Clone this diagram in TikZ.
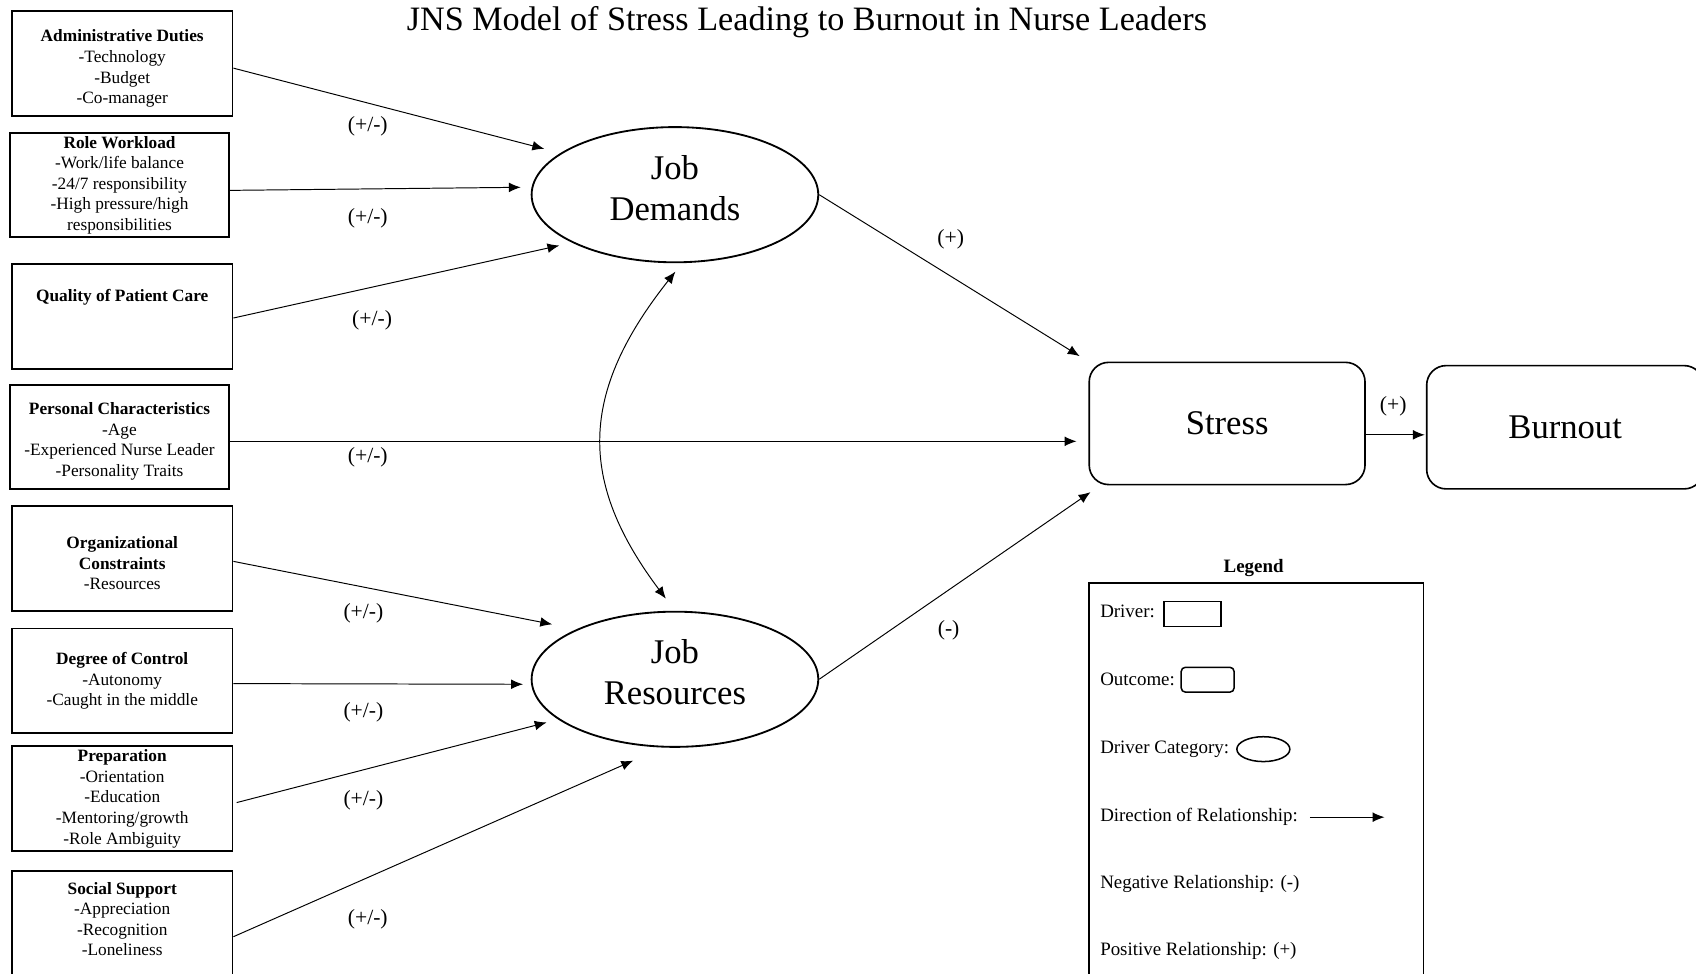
\documentclass[tikz,border=0pt]{standalone}
\usepackage{fontspec}
\setmainfont{Liberation Serif}
\usetikzlibrary{arrows.meta,shapes.geometric}
\begin{document}
\begin{tikzpicture}[x=1pt, y=-1pt,
  every node/.style={inner sep=0pt},
  driver/.style={draw, line width=1.6pt, minimum width=204pt, minimum height=97pt,
    align=center, font=\fontsize{16}{19}\selectfont},
  category/.style={draw, ellipse, line width=1.7pt, minimum width=265pt,
    minimum height=125pt, align=center, font=\fontsize{32}{38}\selectfont},
  outcome/.style={draw, rounded corners=18pt, line width=1.5pt, minimum height=113pt,
    font=\fontsize{32}{38}\selectfont},
  tip/.tip={Latex[length=11pt,width=9pt]},
  rel/.style={-tip, line width=0.9pt},
  sign/.style={font=\fontsize{20}{24}\selectfont, text height=14pt, text depth=4.5pt},
  legtext/.style={anchor=west, font=\fontsize{17.5}{21}\selectfont,
    text height=12pt, text depth=4pt},
  legshape/.style={draw, line width=1.4pt, minimum height=23pt},
]
\useasboundingbox (0,0) rectangle (1568,900);

% title
\node[anchor=base, font=\fontsize{31.6}{37}\selectfont] (title) at (746,28)
  {JNS Model of Stress Leading to Burnout in Nurse Leaders};

% drivers (empty rows with extra skip nudge the text block up or down)
\node[driver] (admin) at (113,58.5)
  {\mbox{}\\[2pt]\textbf{Administrative Duties}\\-Technology\\-Budget\\-Co-manager};
\node[driver, minimum width=203pt, minimum height=96pt] (role) at (110.5,171)
  {\textbf{Role Workload}\\-Work/life balance\\-24/7 responsibility\\-High pressure/high\\responsibilities};
\node[driver] (quality) at (113,292.5)
  {\textbf{Quality of Patient Care}\\[19pt]\mbox{}};
\node[driver, minimum width=203pt, minimum height=96pt] (personal) at (110.5,404)
  {\mbox{}\\[0pt]\textbf{Personal Characteristics}\\-Age\\-Experienced Nurse Leader\\-Personality Traits};
\node[driver] (org) at (113,516.5)
  {\mbox{}\\[1pt]\textbf{Organizational}\\\textbf{Constraints}\\-Resources};
\node[driver] (degree) at (113,629.5)
  {\textbf{Degree of Control}\\-Autonomy\\-Caught in the middle};
\node[driver] (prep) at (113,738.5)
  {\textbf{Preparation}\\-Orientation\\-Education\\-Mentoring/growth\\-Role Ambiguity};
\node[driver] (social) at (113,853.5)
  {\textbf{Social Support}\\-Appreciation\\-Recognition\\-Loneliness\\[-11pt]\mbox{}};

% driver categories
\node[category] (jd) at (624,180) {Job\\Demands\\[-26pt]\mbox{}};
\node[category] (jr) at (624,628) {Job\\Resources\\[-24pt]\mbox{}};

% outcomes
\node[outcome, minimum width=255pt] (stress) at (1134.5,391.5) {Stress};
\node[outcome, minimum width=256pt, minimum height=114pt] (burnout) at (1447,395) {Burnout};

% drivers to categories
\draw[rel, shorten >=15.5pt] ([yshift=-4.5pt]admin.east) -- (jd.160);
\draw[rel, shorten >=10pt] ([yshift=-5pt]role.east) -- (jd.177);
\draw[rel, shorten >=12pt] ([yshift=-1.5pt]quality.east) -- (jd.205);
\draw[rel, shorten >=23pt] ([yshift=-2.5pt]org.east) -- (jr.153);
\draw[rel, shorten >=7.5pt] ([yshift=-2.5pt]degree.east) -- (jr.182);
\draw[rel, shorten >=11pt] ([xshift=3pt,yshift=-3.5pt]prep.east) -- (jr.199);
\draw[rel, shorten >=30pt] ([yshift=-12.5pt]social.east) -- (jr.260);

% direct driver of stress
\coordinate (pA) at ([yshift=-4pt]personal.east);
\draw[rel, shorten >=11pt] (pA) -- (pA -| stress.west);

% categories to stress, stress to burnout
\draw[rel, shorten >=9.5pt] (jd.east) -- (stress.north west);
\draw[rel, shorten >=11pt] (jr.east) -- ([xshift=11pt]stress.south west);
\coordinate (sA) at ([yshift=-10.5pt]stress.east);
\draw[rel, shorten >=1pt] (sA) -- (sA -| burnout.west);

% demands <-> resources
\draw[tip-tip, line width=0.9pt, shorten <=10pt, shorten >=14pt]
  (jd.276) .. controls +(-95,120) and +(-90,-120) .. (jr.north);

% relationship signs
\node[sign] (sg1) at (340,117) {(+/-)};
\node[sign] (sg2) at (340,202) {(+/-)};
\node[sign] (sg3) at (344,296) {(+/-)};
\node[sign] (sg4) at (340,423) {(+/-)};
\node[sign] (sg5) at (336,567) {(+/-)};
\node[sign] (sg6) at (336,659) {(+/-)};
\node[sign] (sg7) at (336,740) {(+/-)};
\node[sign] (sg8) at (340,850) {(+/-)};
\node[sign] (sg9) at (879,221) {(+)};
\node[sign] (sg10) at (877,583) {(-)};
\node[sign] (sg11) at (1288,376) {(+)};

% legend
\node[font=\bfseries\fontsize{17.5}{21}\selectfont] (legtitle) at (1159,525) {Legend};
\node[draw, line width=1.5pt, minimum width=309pt, minimum height=366pt] (legbox) at (1161.5,722) {};
\node[legtext] (lg1) at (1017,566.5) {Driver:};
\node[legshape, minimum width=53pt] (lgdriver) at (1102.5,567.5) {};
\node[legtext] (lg2) at (1017,629.5) {Outcome:};
\node[legshape, rounded corners=4pt, minimum width=49pt] (lgoutcome) at (1116.5,628.4) {};
\node[legtext] (lg3) at (1017,692.5) {Driver Category:};
\node[legshape, ellipse, minimum width=49pt] (lgcat) at (1168,692.6) {};
\node[legtext] (lg4) at (1017,755.5) {Direction of Relationship:};
\coordinate (lgA) at (1211,755.5);
\coordinate (lgB) at (1280,755.5);
\draw[rel] (lgA) -- (lgB);
\node[legtext] (lg5) at (1017,817.5) {Negative Relationship: (-)};
\node[legtext] (lg6) at (1017,879) {Positive Relationship: (+)};
\end{tikzpicture}
\end{document}
